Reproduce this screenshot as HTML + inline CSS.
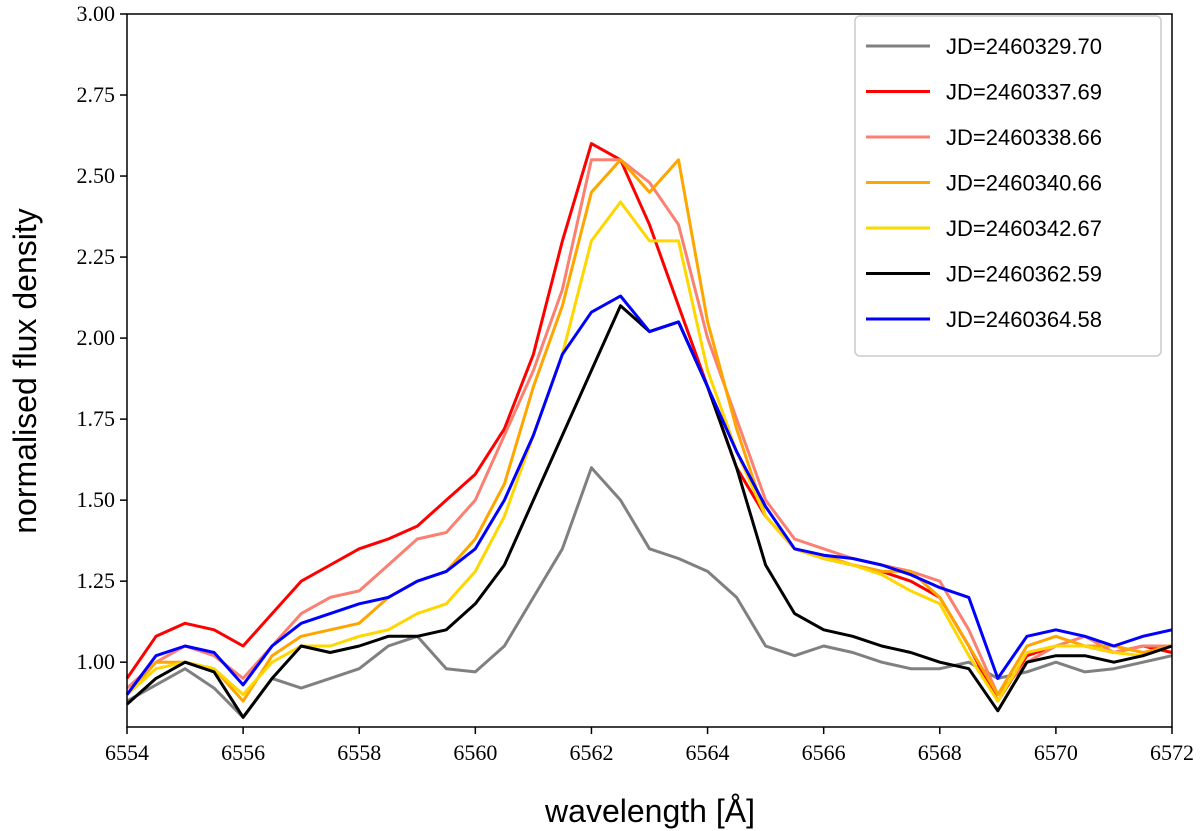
<!DOCTYPE html>
<html><head><meta charset="utf-8"><style>
body{margin:0;background:#fff}
svg{display:block}
text{font-family:"Liberation Serif",serif;fill:#000}
.t{font-family:"Liberation Sans",sans-serif}
</style></head><body>
<svg id="chart" width="1200" height="831" xmlns="http://www.w3.org/2000/svg">
<g id="plot"></g>
<g id="axes"></g>
<g id="legend"></g>
<text class="t" x="650" y="822" font-size="32" text-anchor="middle">wavelength [Å]</text>
<text class="t" transform="translate(36,371) rotate(-90)" font-size="32" text-anchor="middle">normalised flux density</text>
</svg>
<script>
const wl0 = 6554, wlStep = 0.5;
const labels = ["JD=2460329.70","JD=2460337.69","JD=2460338.66","JD=2460340.66","JD=2460342.67","JD=2460362.59","JD=2460364.58"];
const colors = ["#808080","#ff0000","#fa8072","#ffa500","#ffd700","#000000","#0000ff"];
const s0 = [0.88,0.93,0.98,0.92,0.83,0.95,0.92,0.95,0.98,1.05,1.08,0.98,0.97,1.05,1.2,1.35,1.6,1.5,1.35,1.32,1.28,1.2,1.05,1.02,1.05,1.03,1.0,0.98,0.98,1.0,0.95,0.97,1.0,0.97,0.98,1.0,1.02];
const s1 = [0.95,1.08,1.12,1.1,1.05,1.15,1.25,1.3,1.35,1.38,1.42,1.5,1.58,1.72,1.95,2.3,2.6,2.55,2.35,2.1,1.85,1.6,1.45,1.35,1.32,1.3,1.28,1.25,1.2,1.05,0.88,1.02,1.05,1.05,1.03,1.05,1.03];
const s2 = [0.92,1.0,1.05,1.02,0.95,1.05,1.15,1.2,1.22,1.3,1.38,1.4,1.5,1.7,1.9,2.15,2.55,2.55,2.48,2.35,2.0,1.75,1.5,1.38,1.35,1.32,1.3,1.28,1.25,1.1,0.9,1.0,1.05,1.08,1.03,1.05,1.05];
const s3 = [0.9,1.0,1.0,0.98,0.88,1.02,1.08,1.1,1.12,1.2,1.25,1.28,1.38,1.55,1.85,2.1,2.45,2.55,2.45,2.55,2.05,1.72,1.45,1.35,1.33,1.3,1.28,1.28,1.2,1.05,0.9,1.05,1.08,1.05,1.05,1.03,1.05];
const s4 = [0.9,0.98,1.0,0.98,0.9,1.0,1.05,1.05,1.08,1.1,1.15,1.18,1.28,1.45,1.7,1.95,2.3,2.42,2.3,2.3,1.9,1.65,1.45,1.35,1.32,1.3,1.27,1.22,1.18,1.02,0.88,1.03,1.05,1.05,1.03,1.02,1.05];
const s5 = [0.87,0.95,1.0,0.97,0.83,0.95,1.05,1.03,1.05,1.08,1.08,1.1,1.18,1.3,1.5,1.7,1.9,2.1,2.02,2.05,1.85,1.6,1.3,1.15,1.1,1.08,1.05,1.03,1.0,0.98,0.85,1.0,1.02,1.02,1.0,1.02,1.05];
const s6 = [0.9,1.02,1.05,1.03,0.93,1.05,1.12,1.15,1.18,1.2,1.25,1.28,1.35,1.5,1.7,1.95,2.08,2.13,2.02,2.05,1.85,1.65,1.48,1.35,1.33,1.32,1.3,1.27,1.23,1.2,0.95,1.08,1.1,1.08,1.05,1.08,1.1];
const series = [s0,s1,s2,s3,s4,s5,s6];
const xTicks = [6554,6556,6558,6560,6562,6564,6566,6568,6570,6572];
const yTicks = [1.00,1.25,1.50,1.75,2.00,2.25,2.50,2.75,3.00];

const L=127,R=1172,T=14,B=727,xmin=6554,xmax=6572,ymin=0.8,ymax=3.0;
const X=v=>L+(v-xmin)/(xmax-xmin)*(R-L);
const Y=v=>B-(v-ymin)/(ymax-ymin)*(B-T);
const NS="http://www.w3.org/2000/svg";
function mk(tag,attrs,parent){const e=document.createElementNS(NS,tag);for(const k in attrs)e.setAttribute(k,attrs[k]);parent.appendChild(e);return e;}
const plot=document.getElementById('plot'),axes=document.getElementById('axes'),leg=document.getElementById('legend');
series.forEach((s,i)=>{
  const d=s.map((v,j)=>(j?'L':'M')+X(wl0+j*wlStep).toFixed(1)+','+Y(v).toFixed(1)).join('');
  const p=mk('path',{d:d,fill:'none',stroke:colors[i],'stroke-width':3,'stroke-linejoin':'round'},plot);
  
  
});
const fr=mk('rect',{x:L,y:T,width:R-L,height:B-T,fill:'none',stroke:'#000','stroke-width':1.5},axes);


xTicks.forEach(v=>{
  mk('line',{x1:X(v),x2:X(v),y1:B,y2:B+7,stroke:'#000','stroke-width':1.5},axes);
  const t=mk('text',{x:X(v),y:B+33,'font-size':22,'text-anchor':'middle'},axes);t.textContent=v;
  
  
});
yTicks.forEach(v=>{
  mk('line',{x1:L-7,x2:L,y1:Y(v),y2:Y(v),stroke:'#000','stroke-width':1.5},axes);
  const t=mk('text',{x:L-12,y:Y(v)+7,'font-size':22,'text-anchor':'end'},axes);t.textContent=v.toFixed(2);
  
  
});
const lb=mk('rect',{x:855,y:16,width:306,height:340,rx:5,fill:'#fff',stroke:'#ccc','stroke-width':1.5},leg);


labels.forEach((l,i)=>{
  const y=46+i*45.5;
  const g=mk('g',{},leg);
  
  
  mk('line',{x1:866,x2:930,y1:y,y2:y,stroke:colors[i],'stroke-width':3},g);
  const t=mk('text',{x:946,y:y+8,'font-size':22,class:'t'},g);t.textContent=l;
});
</script>
</body></html>
